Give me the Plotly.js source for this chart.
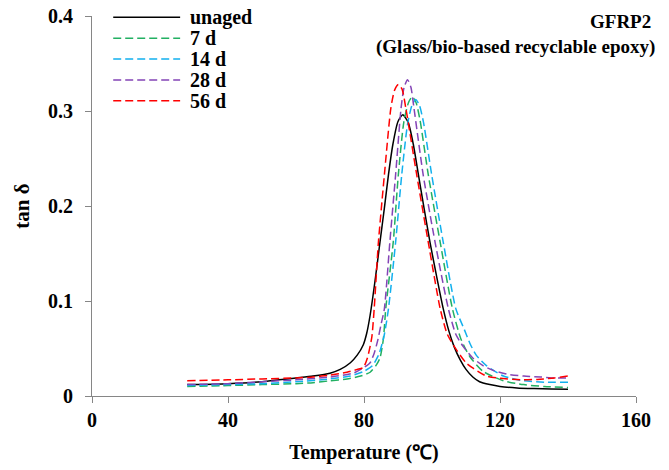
<!DOCTYPE html>
<html>
<head>
<meta charset="utf-8">
<script src="https://cdn.plot.ly/plotly-3.0.1.min.js"></script>
<style>
  html, body { margin: 0; padding: 0; background: #ffffff; }
  #chart { width: 669px; height: 470px; }
</style>
</head>
<body>
<div id="chart"></div>
<script>
// Series names
const seriesNames = ["unaged", "7 d", "14 d", "28 d", "56 d"];

// Temperature (°C) and tan δ values
const unagedT = [28, 40, 50, 55, 60, 65, 70, 73, 76, 78, 79.8, 80.8, 81.8, 83.2, 84.7, 86, 87.2, 88.5, 90, 91.4, 93, 94.5, 96, 97.7, 99.4, 101.3, 103.3, 105, 106.5, 108.3, 110, 112, 114, 117, 120, 125, 130, 135, 140];
const unagedY = [0.012, 0.013, 0.015, 0.017, 0.019, 0.021, 0.024, 0.028, 0.035, 0.043, 0.054, 0.066, 0.085, 0.120, 0.162, 0.198, 0.233, 0.265, 0.289, 0.296, 0.288, 0.265, 0.233, 0.197, 0.162, 0.127, 0.092, 0.068, 0.052, 0.038, 0.028, 0.020, 0.015, 0.012, 0.010, 0.0085, 0.0078, 0.0073, 0.007];

const d7T = [28, 40, 50, 60, 65, 70, 75, 79, 81.8, 83.5, 84.7, 85.7, 86.4, 88.6, 90.1, 91.7, 93.1, 94.2, 95.3, 96.5, 98.9, 102.4, 106.0, 108.5, 111.2, 115, 121, 127, 133, 140];
const d7Y = [0.010, 0.011, 0.012, 0.013, 0.014, 0.016, 0.018, 0.021, 0.025, 0.032, 0.040, 0.060, 0.092, 0.162, 0.233, 0.288, 0.309, 0.315, 0.309, 0.290, 0.233, 0.162, 0.092, 0.060, 0.041, 0.026, 0.016, 0.012, 0.010, 0.009];

const d14T = [28, 40, 50, 60, 70, 76, 80, 82.5, 84.5, 86, 87.2, 89.3, 91.1, 92.8, 94.1, 95.2, 96.3, 97.5, 99.9, 103.3, 107.0, 109.5, 111.2, 113, 116, 121, 127, 133, 140];
const d14Y = [0.011, 0.012, 0.013, 0.015, 0.018, 0.021, 0.026, 0.032, 0.045, 0.065, 0.092, 0.162, 0.233, 0.286, 0.306, 0.312, 0.306, 0.288, 0.233, 0.162, 0.092, 0.070, 0.055, 0.043, 0.032, 0.021, 0.016, 0.0145, 0.0145];

const d28T = [28, 40, 50, 60, 70, 76.8, 80, 81.8, 83, 84, 85, 86.0, 87.6, 89.3, 90.9, 91.8, 92.8, 93.8, 94.7, 97.4, 100.9, 104.8, 107, 109.2, 112, 115, 118, 122, 127, 132, 136, 140];
const d28Y = [0.012, 0.013, 0.015, 0.017, 0.020, 0.024, 0.030, 0.035, 0.045, 0.058, 0.075, 0.092, 0.162, 0.233, 0.303, 0.325, 0.333, 0.325, 0.303, 0.233, 0.162, 0.092, 0.065, 0.052, 0.040, 0.032, 0.027, 0.023, 0.021, 0.020, 0.019, 0.019];

const d56T = [28, 40, 50, 60, 65, 70, 75, 78, 79.8, 81, 82.3, 83, 84.2, 86.0, 87.9, 89.0, 90.1, 91.2, 92.3, 95.5, 98.9, 102.4, 104.5, 107.3, 110, 112.2, 116, 120, 126, 131, 136, 140];
const d56Y = [0.016, 0.017, 0.018, 0.019, 0.020, 0.022, 0.025, 0.028, 0.030, 0.040, 0.062, 0.092, 0.160, 0.233, 0.303, 0.322, 0.328, 0.323, 0.303, 0.233, 0.162, 0.092, 0.065, 0.048, 0.035, 0.029, 0.021, 0.0186, 0.017, 0.0175, 0.019, 0.021];

// Axis ticks
const xTicks = [0, 40, 80, 120, 160];
const yTicks = [0, 0.1, 0.2, 0.3, 0.4];

const seriesT = [unagedT, d7T, d14T, d28T, d56T];
const seriesY = [unagedY, d7Y, d14Y, d28Y, d56Y];
const colors = ["#000000", "#22b062", "#12b0ee", "#8444b6", "#ff0000"];
const dashes = ["solid", "8px,4px", "8px,4px", "8px,4px", "8px,4px"];

const FONT = "Liberation Serif";
const bold = (size) => ({ family: FONT, size: size, weight: "bold", color: "#000000" });

const traces = seriesNames.map((name, i) => ({
  type: "scatter",
  mode: "lines",
  name: name,
  x: seriesT[i],
  y: seriesY[i],
  showlegend: false,
  line: { color: colors[i], width: 1.5, dash: dashes[i], shape: "spline", smoothing: 0.6 }
}));

// Legend drawn as paper-space decoration (sample lines + labels)
const legendY0 = 0.9966, legendStep = 0.0549;
const legendShapes = seriesNames.map((name, i) => ({
  type: "line", xref: "paper", yref: "paper",
  x0: 0.039, x1: 0.162,
  y0: legendY0 - i * legendStep, y1: legendY0 - i * legendStep,
  line: { color: colors[i], width: 1.5, dash: dashes[i] }
}));
const legendLabels = seriesNames.map((name, i) => ({
  xref: "paper", yref: "paper", x: 0.176, y: legendY0 - i * legendStep,
  xanchor: "left", yanchor: "middle", showarrow: false, text: name,
  font: bold(20)
}));

const layout = {
  width: 669,
  height: 470,
  paper_bgcolor: "#ffffff",
  plot_bgcolor: "#ffffff",
  margin: { l: 92, r: 33, t: 16, b: 74 },
  font: { family: FONT, color: "#000000", size: 18 },
  showlegend: false,
  xaxis: {
    range: [0, 160],
    tickvals: xTicks,
    ticktext: xTicks.map(String),
    showgrid: false,
    zeroline: false,
    showline: true,
    linecolor: "#868686",
    linewidth: 1,
    ticks: "outside",
    ticklen: 6,
    tickcolor: "#868686",
    tickfont: bold(20),
    title: { text: "Temperature (℃)", font: bold(20), standoff: 14 }
  },
  yaxis: {
    range: [0, 0.4],
    tickvals: yTicks,
    ticktext: yTicks.map(String),
    showgrid: false,
    zeroline: false,
    showline: true,
    linecolor: "#868686",
    linewidth: 1,
    ticks: "outside",
    ticklen: 6,
    tickcolor: "#868686",
    ticklabelstandoff: 8,
    tickfont: bold(20),
    title: { text: "tan δ", font: bold(21), standoff: 12 }
  },
  shapes: legendShapes,
  annotations: legendLabels.concat([
    {
      xref: "paper", yref: "paper", x: 1.031, y: 0.985, xanchor: "right", yanchor: "middle",
      text: "GFRP2", showarrow: false, align: "right",
      font: bold(19)
    },
    {
      xref: "paper", yref: "paper", x: 1.039, y: 0.919, xanchor: "right", yanchor: "middle",
      text: "(Glass/bio-based recyclable epoxy)", showarrow: false, align: "right",
      font: bold(19)
    }
  ])
};

Plotly.newPlot("chart", traces, layout, { displayModeBar: false, staticPlot: true });
</script>
</body>
</html>
